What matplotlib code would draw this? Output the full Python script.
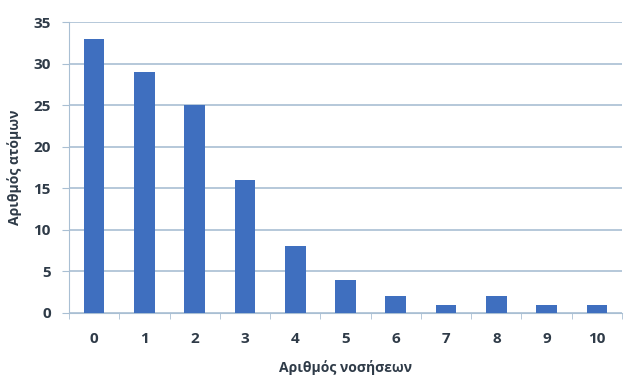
import matplotlib
matplotlib.use("Agg")
import matplotlib.pyplot as plt

# Number of illnesses vs number of people
categories = ["0", "1", "2", "3", "4", "5", "6", "7", "8", "9", "10"]
counts = [33, 29, 25, 16, 8, 4, 2, 1, 2, 1, 1]
yticks = [0, 5, 10, 15, 20, 25, 30, 35]

bar_color = "#3f6fbf"
grid_color = "#a9bfd3"
text_color = "#2f3b48"

plt.rcParams["font.family"] = ["Open Sans", "DejaVu Sans"]

fig = plt.figure(figsize=(6.24, 3.76), dpi=100)
ax = fig.add_axes([69 / 624, 1 - 313 / 376, (622 - 69) / 624, (313 - 22) / 376])

x = list(range(len(categories)))
ax.bar(x, counts, width=0.41, color=bar_color, zorder=3)

ax.set_xlim(-0.5, len(categories) - 0.5)
ax.set_ylim(0, 35)
ax.set_yticks(yticks)
ax.set_yticklabels([str(v) for v in yticks], fontsize=11, fontweight="bold", color=text_color)
ax.set_xticks(x)
ax.set_xticklabels(categories, fontsize=11, fontweight="bold", color=text_color)
ax.tick_params(axis="x", length=0, pad=14)
ax.tick_params(axis="y", length=5, color=grid_color, pad=8)

# minor ticks between categories on the x axis
ax.set_xticks([i + 0.5 for i in range(-1, len(categories))], minor=True)
ax.tick_params(axis="x", which="minor", length=4, color=grid_color, direction="out")

ax.yaxis.grid(True, color=grid_color, linewidth=1.2, zorder=0)
for side in ["top", "right"]:
    ax.spines[side].set_visible(False)
ax.spines["left"].set_color(grid_color)
ax.spines["bottom"].set_color(grid_color)

ax.set_xlabel("Αριθμός νοσήσεων", fontsize=10, fontweight="bold", color=text_color, labelpad=10)
ax.set_ylabel("Αριθμός ατόμων", fontsize=10, fontweight="bold", color=text_color, labelpad=8)

fig.savefig("out.png", dpi=100)
